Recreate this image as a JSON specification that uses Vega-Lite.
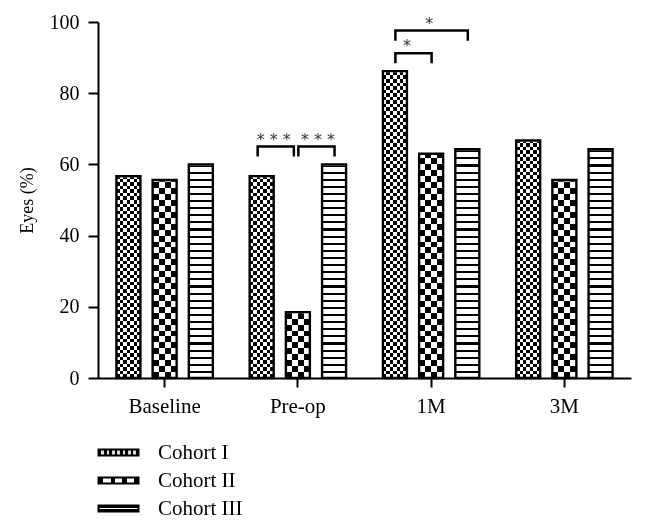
{
  "$schema": "https://vega.github.io/schema/vega-lite/v6.json",
  "width": 533,
  "height": 356,
  "autosize": {"type": "none"},
  "padding": {"left": 98, "top": 22, "right": 15, "bottom": 151},
  "background": "white",
  "config": {"view": {"stroke": null}, "font": "Liberation Serif"},
  "datasets": {
    "bars": [
      {"time": "Baseline", "cohort": "Cohort I", "value": 56.7},
      {"time": "Baseline", "cohort": "Cohort II", "value": 55.6},
      {"time": "Baseline", "cohort": "Cohort III", "value": 60.0},
      {"time": "Pre-op", "cohort": "Cohort I", "value": 56.7},
      {"time": "Pre-op", "cohort": "Cohort II", "value": 18.5},
      {"time": "Pre-op", "cohort": "Cohort III", "value": 60.0},
      {"time": "1M", "cohort": "Cohort I", "value": 86.2},
      {"time": "1M", "cohort": "Cohort II", "value": 63.0},
      {"time": "1M", "cohort": "Cohort III", "value": 64.3},
      {"time": "3M", "cohort": "Cohort I", "value": 66.7},
      {"time": "3M", "cohort": "Cohort II", "value": 55.6},
      {"time": "3M", "cohort": "Cohort III", "value": 64.3}
    ],
    "brackets": [
      {"id": "a", "time": "Pre-op", "cohort": "Cohort I", "seq": 1, "y": 62.2},
      {"id": "a", "time": "Pre-op", "cohort": "Cohort I", "seq": 2, "y": 65.0},
      {"id": "a", "time": "Pre-op", "cohort": "Cohort II", "seq": 3, "y": 65.0},
      {"id": "a", "time": "Pre-op", "cohort": "Cohort II", "seq": 4, "y": 62.2},
      {"id": "b", "time": "Pre-op", "cohort": "Cohort II", "seq": 1, "y": 62.2},
      {"id": "b", "time": "Pre-op", "cohort": "Cohort II", "seq": 2, "y": 65.0},
      {"id": "b", "time": "Pre-op", "cohort": "Cohort III", "seq": 3, "y": 65.0},
      {"id": "b", "time": "Pre-op", "cohort": "Cohort III", "seq": 4, "y": 62.2},
      {"id": "c", "time": "1M", "cohort": "Cohort I", "seq": 1, "y": 88.4},
      {"id": "c", "time": "1M", "cohort": "Cohort I", "seq": 2, "y": 91.2},
      {"id": "c", "time": "1M", "cohort": "Cohort II", "seq": 3, "y": 91.2},
      {"id": "c", "time": "1M", "cohort": "Cohort II", "seq": 4, "y": 88.4},
      {"id": "d", "time": "1M", "cohort": "Cohort I", "seq": 1, "y": 94.7},
      {"id": "d", "time": "1M", "cohort": "Cohort I", "seq": 2, "y": 97.6},
      {"id": "d", "time": "1M", "cohort": "Cohort III", "seq": 3, "y": 97.6},
      {"id": "d", "time": "1M", "cohort": "Cohort III", "seq": 4, "y": 94.7}
    ],
    "stars": [
      {"time": "Pre-op", "comparison": "I vs II", "label": "* * *", "y": 65.0},
      {"time": "Pre-op", "comparison": "II vs III", "label": "* * *", "y": 65.0},
      {"time": "1M", "comparison": "I vs II", "label": "*", "y": 91.2},
      {"time": "1M", "comparison": "I vs III", "label": "*", "y": 97.6}
    ]
  },
  "encoding": {
    "x": {
      "field": "time", "type": "nominal",
      "sort": ["Baseline", "Pre-op", "1M", "3M"],
      "scale": {"paddingInner": 0, "paddingOuter": 0},
      "title": null,
      "axis": {"labelAngle": 0, "labelFontSize": 21, "labelFont": "Liberation Serif", "labelColor": "black", "tickSize": 9, "tickWidth": 2, "tickColor": "black", "domainColor": "black", "domainWidth": 2, "labelPadding": 8, "grid": false}
    }
  },
  "layer": [
    {
      "data": {"name": "bars"},
      "encoding": {
        "xOffset": {"field": "cohort", "type": "nominal", "sort": ["Cohort I", "Cohort II", "Cohort III"], "scale": {"paddingInner": 0.337, "paddingOuter": 0.509}}
      },
      "layer": [
        {
          "mark": {"type": "bar"},
          "encoding": {
            "y": {"field": "value", "type": "quantitative", "scale": {"domain": [0, 100], "nice": false}, "title": "Eyes (%)",
              "axis": {"values": [0, 20, 40, 60, 80, 100], "grid": false, "domainColor": "black", "domainWidth": 2, "tickColor": "black", "tickWidth": 2, "tickSize": 10, "labelPadding": 9, "labelFontSize": 20, "labelColor": "black", "labelFont": "Liberation Serif", "titleFont": "Liberation Serif", "titleFontSize": 18, "titleFontWeight": "normal", "titleColor": "black", "titlePadding": 13}},
            "fill": {"field": "cohort", "type": "nominal", "sort": ["Cohort I", "Cohort II", "Cohort III"],
              "scale": {"range": [
                {"expr": "{gradient: 'linear', x1: 0, y1: 0, x2: 1, y2: 0, stops: [{offset: 0, color: '#000'}, {offset: 0.0667, color: '#000'}, {offset: 0.0667, color: '#ddd'}, {offset: 0.1333, color: '#ddd'}, {offset: 0.1333, color: '#000'}, {offset: 0.2, color: '#000'}, {offset: 0.2, color: '#ddd'}, {offset: 0.2667, color: '#ddd'}, {offset: 0.2667, color: '#000'}, {offset: 0.3333, color: '#000'}, {offset: 0.3333, color: '#ddd'}, {offset: 0.4, color: '#ddd'}, {offset: 0.4, color: '#000'}, {offset: 0.4667, color: '#000'}, {offset: 0.4667, color: '#ddd'}, {offset: 0.5333, color: '#ddd'}, {offset: 0.5333, color: '#000'}, {offset: 0.6, color: '#000'}, {offset: 0.6, color: '#ddd'}, {offset: 0.6667, color: '#ddd'}, {offset: 0.6667, color: '#000'}, {offset: 0.7333, color: '#000'}, {offset: 0.7333, color: '#ddd'}, {offset: 0.8, color: '#ddd'}, {offset: 0.8, color: '#000'}, {offset: 0.8667, color: '#000'}, {offset: 0.8667, color: '#ddd'}, {offset: 0.9333, color: '#ddd'}, {offset: 0.9333, color: '#000'}, {offset: 1, color: '#000'}]}"},
                {"expr": "{gradient: 'linear', x1: 0, y1: 0, x2: 1, y2: 0, stops: [{offset: 0, color: '#000'}, {offset: 0.12, color: '#000'}, {offset: 0.12, color: '#fff'}, {offset: 0.3, color: '#fff'}, {offset: 0.3, color: '#000'}, {offset: 0.41, color: '#000'}, {offset: 0.41, color: '#fff'}, {offset: 0.59, color: '#fff'}, {offset: 0.59, color: '#000'}, {offset: 0.7, color: '#000'}, {offset: 0.7, color: '#fff'}, {offset: 0.88, color: '#fff'}, {offset: 0.88, color: '#000'}, {offset: 1, color: '#000'}]}"},
                {"expr": "{gradient: 'linear', x1: 0, y1: 0, x2: 0, y2: 1, stops: [{offset: 0, color: '#000'}, {offset: 0.36, color: '#000'}, {offset: 0.36, color: '#fff'}, {offset: 0.64, color: '#fff'}, {offset: 0.64, color: '#000'}, {offset: 1, color: '#000'}]}"}
              ]},
              "legend": {"title": null, "orient": "bottom", "direction": "vertical", "symbolType": "M-2.5,-0.38H2.5V0.38H-2.5Z", "symbolSize": 256, "labelFont": "Liberation Serif", "labelFontSize": 21, "labelColor": "black", "labelOffset": 29, "rowPadding": 6, "padding": 10, "offset": 16,
                "encode": {"symbols": {"update": {"stroke": {"value": "black"}, "strokeWidth": {"value": 2}, "opacity": {"value": 1}, "fillOpacity": {"value": 1}}}}}}
          }
        },
        {
          "transform": [{"filter": "datum.cohort === 'Cohort I'"}],
          "mark": {"type": "bar", "fill": {"gradient": "linear", "x1": 0, "y1": 0, "x2": 0, "y2": 1, "stops": [
            {"offset":0,"color":"#000"},{"offset":0.01,"color":"#000"},{"offset":0.01,"color":"#fff"},{"offset":0.02,"color":"#fff"},{"offset":0.02,"color":"#000"},{"offset":0.03,"color":"#000"},{"offset":0.03,"color":"#fff"},{"offset":0.04,"color":"#fff"},{"offset":0.04,"color":"#000"},{"offset":0.05,"color":"#000"},{"offset":0.05,"color":"#fff"},{"offset":0.06,"color":"#fff"},{"offset":0.06,"color":"#000"},{"offset":0.07,"color":"#000"},{"offset":0.07,"color":"#fff"},{"offset":0.08,"color":"#fff"},{"offset":0.08,"color":"#000"},{"offset":0.09,"color":"#000"},{"offset":0.09,"color":"#fff"},{"offset":0.1,"color":"#fff"},
            {"offset":0.1,"color":"#000"},{"offset":0.11,"color":"#000"},{"offset":0.11,"color":"#fff"},{"offset":0.12,"color":"#fff"},{"offset":0.12,"color":"#000"},{"offset":0.13,"color":"#000"},{"offset":0.13,"color":"#fff"},{"offset":0.14,"color":"#fff"},{"offset":0.14,"color":"#000"},{"offset":0.15,"color":"#000"},{"offset":0.15,"color":"#fff"},{"offset":0.16,"color":"#fff"},{"offset":0.16,"color":"#000"},{"offset":0.17,"color":"#000"},{"offset":0.17,"color":"#fff"},{"offset":0.18,"color":"#fff"},{"offset":0.18,"color":"#000"},{"offset":0.19,"color":"#000"},{"offset":0.19,"color":"#fff"},{"offset":0.2,"color":"#fff"},
            {"offset":0.2,"color":"#000"},{"offset":0.21,"color":"#000"},{"offset":0.21,"color":"#fff"},{"offset":0.22,"color":"#fff"},{"offset":0.22,"color":"#000"},{"offset":0.23,"color":"#000"},{"offset":0.23,"color":"#fff"},{"offset":0.24,"color":"#fff"},{"offset":0.24,"color":"#000"},{"offset":0.25,"color":"#000"},{"offset":0.25,"color":"#fff"},{"offset":0.26,"color":"#fff"},{"offset":0.26,"color":"#000"},{"offset":0.27,"color":"#000"},{"offset":0.27,"color":"#fff"},{"offset":0.28,"color":"#fff"},{"offset":0.28,"color":"#000"},{"offset":0.29,"color":"#000"},{"offset":0.29,"color":"#fff"},{"offset":0.3,"color":"#fff"},
            {"offset":0.3,"color":"#000"},{"offset":0.31,"color":"#000"},{"offset":0.31,"color":"#fff"},{"offset":0.32,"color":"#fff"},{"offset":0.32,"color":"#000"},{"offset":0.33,"color":"#000"},{"offset":0.33,"color":"#fff"},{"offset":0.34,"color":"#fff"},{"offset":0.34,"color":"#000"},{"offset":0.35,"color":"#000"},{"offset":0.35,"color":"#fff"},{"offset":0.36,"color":"#fff"},{"offset":0.36,"color":"#000"},{"offset":0.37,"color":"#000"},{"offset":0.37,"color":"#fff"},{"offset":0.38,"color":"#fff"},{"offset":0.38,"color":"#000"},{"offset":0.39,"color":"#000"},{"offset":0.39,"color":"#fff"},{"offset":0.4,"color":"#fff"},
            {"offset":0.4,"color":"#000"},{"offset":0.41,"color":"#000"},{"offset":0.41,"color":"#fff"},{"offset":0.42,"color":"#fff"},{"offset":0.42,"color":"#000"},{"offset":0.43,"color":"#000"},{"offset":0.43,"color":"#fff"},{"offset":0.44,"color":"#fff"},{"offset":0.44,"color":"#000"},{"offset":0.45,"color":"#000"},{"offset":0.45,"color":"#fff"},{"offset":0.46,"color":"#fff"},{"offset":0.46,"color":"#000"},{"offset":0.47,"color":"#000"},{"offset":0.47,"color":"#fff"},{"offset":0.48,"color":"#fff"},{"offset":0.48,"color":"#000"},{"offset":0.49,"color":"#000"},{"offset":0.49,"color":"#fff"},{"offset":0.5,"color":"#fff"},
            {"offset":0.5,"color":"#000"},{"offset":0.51,"color":"#000"},{"offset":0.51,"color":"#fff"},{"offset":0.52,"color":"#fff"},{"offset":0.52,"color":"#000"},{"offset":0.53,"color":"#000"},{"offset":0.53,"color":"#fff"},{"offset":0.54,"color":"#fff"},{"offset":0.54,"color":"#000"},{"offset":0.55,"color":"#000"},{"offset":0.55,"color":"#fff"},{"offset":0.56,"color":"#fff"},{"offset":0.56,"color":"#000"},{"offset":0.57,"color":"#000"},{"offset":0.57,"color":"#fff"},{"offset":0.58,"color":"#fff"},{"offset":0.58,"color":"#000"},{"offset":0.59,"color":"#000"},{"offset":0.59,"color":"#fff"},{"offset":0.6,"color":"#fff"},
            {"offset":0.6,"color":"#000"},{"offset":0.61,"color":"#000"},{"offset":0.61,"color":"#fff"},{"offset":0.62,"color":"#fff"},{"offset":0.62,"color":"#000"},{"offset":0.63,"color":"#000"},{"offset":0.63,"color":"#fff"},{"offset":0.64,"color":"#fff"},{"offset":0.64,"color":"#000"},{"offset":0.65,"color":"#000"},{"offset":0.65,"color":"#fff"},{"offset":0.66,"color":"#fff"},{"offset":0.66,"color":"#000"},{"offset":0.67,"color":"#000"},{"offset":0.67,"color":"#fff"},{"offset":0.68,"color":"#fff"},{"offset":0.68,"color":"#000"},{"offset":0.69,"color":"#000"},{"offset":0.69,"color":"#fff"},{"offset":0.7,"color":"#fff"},
            {"offset":0.7,"color":"#000"},{"offset":0.71,"color":"#000"},{"offset":0.71,"color":"#fff"},{"offset":0.72,"color":"#fff"},{"offset":0.72,"color":"#000"},{"offset":0.73,"color":"#000"},{"offset":0.73,"color":"#fff"},{"offset":0.74,"color":"#fff"},{"offset":0.74,"color":"#000"},{"offset":0.75,"color":"#000"},{"offset":0.75,"color":"#fff"},{"offset":0.76,"color":"#fff"},{"offset":0.76,"color":"#000"},{"offset":0.77,"color":"#000"},{"offset":0.77,"color":"#fff"},{"offset":0.78,"color":"#fff"},{"offset":0.78,"color":"#000"},{"offset":0.79,"color":"#000"},{"offset":0.79,"color":"#fff"},{"offset":0.8,"color":"#fff"},
            {"offset":0.8,"color":"#000"},{"offset":0.81,"color":"#000"},{"offset":0.81,"color":"#fff"},{"offset":0.82,"color":"#fff"},{"offset":0.82,"color":"#000"},{"offset":0.83,"color":"#000"},{"offset":0.83,"color":"#fff"},{"offset":0.84,"color":"#fff"},{"offset":0.84,"color":"#000"},{"offset":0.85,"color":"#000"},{"offset":0.85,"color":"#fff"},{"offset":0.86,"color":"#fff"},{"offset":0.86,"color":"#000"},{"offset":0.87,"color":"#000"},{"offset":0.87,"color":"#fff"},{"offset":0.88,"color":"#fff"},{"offset":0.88,"color":"#000"},{"offset":0.89,"color":"#000"},{"offset":0.89,"color":"#fff"},{"offset":0.9,"color":"#fff"},
            {"offset":0.9,"color":"#000"},{"offset":0.91,"color":"#000"},{"offset":0.91,"color":"#fff"},{"offset":0.92,"color":"#fff"},{"offset":0.92,"color":"#000"},{"offset":0.93,"color":"#000"},{"offset":0.93,"color":"#fff"},{"offset":0.94,"color":"#fff"},{"offset":0.94,"color":"#000"},{"offset":0.95,"color":"#000"},{"offset":0.95,"color":"#fff"},{"offset":0.96,"color":"#fff"},{"offset":0.96,"color":"#000"},{"offset":0.97,"color":"#000"},{"offset":0.97,"color":"#fff"},{"offset":0.98,"color":"#fff"},{"offset":0.98,"color":"#000"},{"offset":0.99,"color":"#000"},{"offset":0.99,"color":"#fff"},{"offset":1,"color":"#fff"}
          ]}},
          "encoding": {"y": {"datum": 100, "type": "quantitative", "title": "Eyes (%)"}, "y2": {"datum": 0}}
        },
        {
          "transform": [{"filter": "datum.cohort === 'Cohort II'"}],
          "mark": {"type": "bar", "fill": {"gradient": "linear", "x1": 0, "y1": 0, "x2": 0, "y2": 1, "stops": [
            {"offset":0,"color":"#000"},{"offset":0.0167,"color":"#000"},{"offset":0.0167,"color":"#fff"},{"offset":0.0333,"color":"#fff"},{"offset":0.0333,"color":"#000"},{"offset":0.05,"color":"#000"},{"offset":0.05,"color":"#fff"},{"offset":0.0667,"color":"#fff"},{"offset":0.0667,"color":"#000"},{"offset":0.0833,"color":"#000"},{"offset":0.0833,"color":"#fff"},{"offset":0.1,"color":"#fff"},
            {"offset":0.1,"color":"#000"},{"offset":0.1167,"color":"#000"},{"offset":0.1167,"color":"#fff"},{"offset":0.1333,"color":"#fff"},{"offset":0.1333,"color":"#000"},{"offset":0.15,"color":"#000"},{"offset":0.15,"color":"#fff"},{"offset":0.1667,"color":"#fff"},{"offset":0.1667,"color":"#000"},{"offset":0.1833,"color":"#000"},{"offset":0.1833,"color":"#fff"},{"offset":0.2,"color":"#fff"},
            {"offset":0.2,"color":"#000"},{"offset":0.2167,"color":"#000"},{"offset":0.2167,"color":"#fff"},{"offset":0.2333,"color":"#fff"},{"offset":0.2333,"color":"#000"},{"offset":0.25,"color":"#000"},{"offset":0.25,"color":"#fff"},{"offset":0.2667,"color":"#fff"},{"offset":0.2667,"color":"#000"},{"offset":0.2833,"color":"#000"},{"offset":0.2833,"color":"#fff"},{"offset":0.3,"color":"#fff"},
            {"offset":0.3,"color":"#000"},{"offset":0.3167,"color":"#000"},{"offset":0.3167,"color":"#fff"},{"offset":0.3333,"color":"#fff"},{"offset":0.3333,"color":"#000"},{"offset":0.35,"color":"#000"},{"offset":0.35,"color":"#fff"},{"offset":0.3667,"color":"#fff"},{"offset":0.3667,"color":"#000"},{"offset":0.3833,"color":"#000"},{"offset":0.3833,"color":"#fff"},{"offset":0.4,"color":"#fff"},
            {"offset":0.4,"color":"#000"},{"offset":0.4167,"color":"#000"},{"offset":0.4167,"color":"#fff"},{"offset":0.4333,"color":"#fff"},{"offset":0.4333,"color":"#000"},{"offset":0.45,"color":"#000"},{"offset":0.45,"color":"#fff"},{"offset":0.4667,"color":"#fff"},{"offset":0.4667,"color":"#000"},{"offset":0.4833,"color":"#000"},{"offset":0.4833,"color":"#fff"},{"offset":0.5,"color":"#fff"},
            {"offset":0.5,"color":"#000"},{"offset":0.5167,"color":"#000"},{"offset":0.5167,"color":"#fff"},{"offset":0.5333,"color":"#fff"},{"offset":0.5333,"color":"#000"},{"offset":0.55,"color":"#000"},{"offset":0.55,"color":"#fff"},{"offset":0.5667,"color":"#fff"},{"offset":0.5667,"color":"#000"},{"offset":0.5833,"color":"#000"},{"offset":0.5833,"color":"#fff"},{"offset":0.6,"color":"#fff"},
            {"offset":0.6,"color":"#000"},{"offset":0.6167,"color":"#000"},{"offset":0.6167,"color":"#fff"},{"offset":0.6333,"color":"#fff"},{"offset":0.6333,"color":"#000"},{"offset":0.65,"color":"#000"},{"offset":0.65,"color":"#fff"},{"offset":0.6667,"color":"#fff"},{"offset":0.6667,"color":"#000"},{"offset":0.6833,"color":"#000"},{"offset":0.6833,"color":"#fff"},{"offset":0.7,"color":"#fff"},
            {"offset":0.7,"color":"#000"},{"offset":0.7167,"color":"#000"},{"offset":0.7167,"color":"#fff"},{"offset":0.7333,"color":"#fff"},{"offset":0.7333,"color":"#000"},{"offset":0.75,"color":"#000"},{"offset":0.75,"color":"#fff"},{"offset":0.7667,"color":"#fff"},{"offset":0.7667,"color":"#000"},{"offset":0.7833,"color":"#000"},{"offset":0.7833,"color":"#fff"},{"offset":0.8,"color":"#fff"},
            {"offset":0.8,"color":"#000"},{"offset":0.8167,"color":"#000"},{"offset":0.8167,"color":"#fff"},{"offset":0.8333,"color":"#fff"},{"offset":0.8333,"color":"#000"},{"offset":0.85,"color":"#000"},{"offset":0.85,"color":"#fff"},{"offset":0.8667,"color":"#fff"},{"offset":0.8667,"color":"#000"},{"offset":0.8833,"color":"#000"},{"offset":0.8833,"color":"#fff"},{"offset":0.9,"color":"#fff"},
            {"offset":0.9,"color":"#000"},{"offset":0.9167,"color":"#000"},{"offset":0.9167,"color":"#fff"},{"offset":0.9333,"color":"#fff"},{"offset":0.9333,"color":"#000"},{"offset":0.95,"color":"#000"},{"offset":0.95,"color":"#fff"},{"offset":0.9667,"color":"#fff"},{"offset":0.9667,"color":"#000"},{"offset":0.9833,"color":"#000"},{"offset":0.9833,"color":"#fff"},{"offset":1,"color":"#fff"}
          ]}},
          "encoding": {"y": {"datum": 100, "type": "quantitative", "title": "Eyes (%)"}, "y2": {"datum": 0}}
        },
        {
          "transform": [{"filter": "datum.cohort === 'Cohort III'"}],
          "mark": {"type": "bar", "fill": {"gradient": "linear", "x1": 0, "y1": 0, "x2": 0, "y2": 1, "stops": [
            {"offset":0,"color":"#000"},{"offset":0.006,"color":"#000"},{"offset":0.006,"color":"#fff"},{"offset":0.02,"color":"#fff"},
            {"offset":0.02,"color":"#000"},{"offset":0.026,"color":"#000"},{"offset":0.026,"color":"#fff"},{"offset":0.04,"color":"#fff"},
            {"offset":0.04,"color":"#000"},{"offset":0.046,"color":"#000"},{"offset":0.046,"color":"#fff"},{"offset":0.06,"color":"#fff"},
            {"offset":0.06,"color":"#000"},{"offset":0.066,"color":"#000"},{"offset":0.066,"color":"#fff"},{"offset":0.08,"color":"#fff"},
            {"offset":0.08,"color":"#000"},{"offset":0.086,"color":"#000"},{"offset":0.086,"color":"#fff"},{"offset":0.1,"color":"#fff"},
            {"offset":0.1,"color":"#000"},{"offset":0.106,"color":"#000"},{"offset":0.106,"color":"#fff"},{"offset":0.12,"color":"#fff"},
            {"offset":0.12,"color":"#000"},{"offset":0.126,"color":"#000"},{"offset":0.126,"color":"#fff"},{"offset":0.14,"color":"#fff"},
            {"offset":0.14,"color":"#000"},{"offset":0.146,"color":"#000"},{"offset":0.146,"color":"#fff"},{"offset":0.16,"color":"#fff"},
            {"offset":0.16,"color":"#000"},{"offset":0.166,"color":"#000"},{"offset":0.166,"color":"#fff"},{"offset":0.18,"color":"#fff"},
            {"offset":0.18,"color":"#000"},{"offset":0.186,"color":"#000"},{"offset":0.186,"color":"#fff"},{"offset":0.2,"color":"#fff"},
            {"offset":0.2,"color":"#000"},{"offset":0.206,"color":"#000"},{"offset":0.206,"color":"#fff"},{"offset":0.22,"color":"#fff"},
            {"offset":0.22,"color":"#000"},{"offset":0.226,"color":"#000"},{"offset":0.226,"color":"#fff"},{"offset":0.24,"color":"#fff"},
            {"offset":0.24,"color":"#000"},{"offset":0.246,"color":"#000"},{"offset":0.246,"color":"#fff"},{"offset":0.26,"color":"#fff"},
            {"offset":0.26,"color":"#000"},{"offset":0.266,"color":"#000"},{"offset":0.266,"color":"#fff"},{"offset":0.28,"color":"#fff"},
            {"offset":0.28,"color":"#000"},{"offset":0.286,"color":"#000"},{"offset":0.286,"color":"#fff"},{"offset":0.3,"color":"#fff"},
            {"offset":0.3,"color":"#000"},{"offset":0.306,"color":"#000"},{"offset":0.306,"color":"#fff"},{"offset":0.32,"color":"#fff"},
            {"offset":0.32,"color":"#000"},{"offset":0.326,"color":"#000"},{"offset":0.326,"color":"#fff"},{"offset":0.34,"color":"#fff"},
            {"offset":0.34,"color":"#000"},{"offset":0.346,"color":"#000"},{"offset":0.346,"color":"#fff"},{"offset":0.36,"color":"#fff"},
            {"offset":0.36,"color":"#000"},{"offset":0.366,"color":"#000"},{"offset":0.366,"color":"#fff"},{"offset":0.38,"color":"#fff"},
            {"offset":0.38,"color":"#000"},{"offset":0.386,"color":"#000"},{"offset":0.386,"color":"#fff"},{"offset":0.4,"color":"#fff"},
            {"offset":0.4,"color":"#000"},{"offset":0.406,"color":"#000"},{"offset":0.406,"color":"#fff"},{"offset":0.42,"color":"#fff"},
            {"offset":0.42,"color":"#000"},{"offset":0.426,"color":"#000"},{"offset":0.426,"color":"#fff"},{"offset":0.44,"color":"#fff"},
            {"offset":0.44,"color":"#000"},{"offset":0.446,"color":"#000"},{"offset":0.446,"color":"#fff"},{"offset":0.46,"color":"#fff"},
            {"offset":0.46,"color":"#000"},{"offset":0.466,"color":"#000"},{"offset":0.466,"color":"#fff"},{"offset":0.48,"color":"#fff"},
            {"offset":0.48,"color":"#000"},{"offset":0.486,"color":"#000"},{"offset":0.486,"color":"#fff"},{"offset":0.5,"color":"#fff"},
            {"offset":0.5,"color":"#000"},{"offset":0.506,"color":"#000"},{"offset":0.506,"color":"#fff"},{"offset":0.52,"color":"#fff"},
            {"offset":0.52,"color":"#000"},{"offset":0.526,"color":"#000"},{"offset":0.526,"color":"#fff"},{"offset":0.54,"color":"#fff"},
            {"offset":0.54,"color":"#000"},{"offset":0.546,"color":"#000"},{"offset":0.546,"color":"#fff"},{"offset":0.56,"color":"#fff"},
            {"offset":0.56,"color":"#000"},{"offset":0.566,"color":"#000"},{"offset":0.566,"color":"#fff"},{"offset":0.58,"color":"#fff"},
            {"offset":0.58,"color":"#000"},{"offset":0.586,"color":"#000"},{"offset":0.586,"color":"#fff"},{"offset":0.6,"color":"#fff"},
            {"offset":0.6,"color":"#000"},{"offset":0.606,"color":"#000"},{"offset":0.606,"color":"#fff"},{"offset":0.62,"color":"#fff"},
            {"offset":0.62,"color":"#000"},{"offset":0.626,"color":"#000"},{"offset":0.626,"color":"#fff"},{"offset":0.64,"color":"#fff"},
            {"offset":0.64,"color":"#000"},{"offset":0.646,"color":"#000"},{"offset":0.646,"color":"#fff"},{"offset":0.66,"color":"#fff"},
            {"offset":0.66,"color":"#000"},{"offset":0.666,"color":"#000"},{"offset":0.666,"color":"#fff"},{"offset":0.68,"color":"#fff"},
            {"offset":0.68,"color":"#000"},{"offset":0.686,"color":"#000"},{"offset":0.686,"color":"#fff"},{"offset":0.7,"color":"#fff"},
            {"offset":0.7,"color":"#000"},{"offset":0.706,"color":"#000"},{"offset":0.706,"color":"#fff"},{"offset":0.72,"color":"#fff"},
            {"offset":0.72,"color":"#000"},{"offset":0.726,"color":"#000"},{"offset":0.726,"color":"#fff"},{"offset":0.74,"color":"#fff"},
            {"offset":0.74,"color":"#000"},{"offset":0.746,"color":"#000"},{"offset":0.746,"color":"#fff"},{"offset":0.76,"color":"#fff"},
            {"offset":0.76,"color":"#000"},{"offset":0.766,"color":"#000"},{"offset":0.766,"color":"#fff"},{"offset":0.78,"color":"#fff"},
            {"offset":0.78,"color":"#000"},{"offset":0.786,"color":"#000"},{"offset":0.786,"color":"#fff"},{"offset":0.8,"color":"#fff"},
            {"offset":0.8,"color":"#000"},{"offset":0.806,"color":"#000"},{"offset":0.806,"color":"#fff"},{"offset":0.82,"color":"#fff"},
            {"offset":0.82,"color":"#000"},{"offset":0.826,"color":"#000"},{"offset":0.826,"color":"#fff"},{"offset":0.84,"color":"#fff"},
            {"offset":0.84,"color":"#000"},{"offset":0.846,"color":"#000"},{"offset":0.846,"color":"#fff"},{"offset":0.86,"color":"#fff"},
            {"offset":0.86,"color":"#000"},{"offset":0.866,"color":"#000"},{"offset":0.866,"color":"#fff"},{"offset":0.88,"color":"#fff"},
            {"offset":0.88,"color":"#000"},{"offset":0.886,"color":"#000"},{"offset":0.886,"color":"#fff"},{"offset":0.9,"color":"#fff"},
            {"offset":0.9,"color":"#000"},{"offset":0.906,"color":"#000"},{"offset":0.906,"color":"#fff"},{"offset":0.92,"color":"#fff"},
            {"offset":0.92,"color":"#000"},{"offset":0.926,"color":"#000"},{"offset":0.926,"color":"#fff"},{"offset":0.94,"color":"#fff"},
            {"offset":0.94,"color":"#000"},{"offset":0.946,"color":"#000"},{"offset":0.946,"color":"#fff"},{"offset":0.96,"color":"#fff"},
            {"offset":0.96,"color":"#000"},{"offset":0.966,"color":"#000"},{"offset":0.966,"color":"#fff"},{"offset":0.98,"color":"#fff"},
            {"offset":0.98,"color":"#000"},{"offset":0.986,"color":"#000"},{"offset":0.986,"color":"#fff"},{"offset":1,"color":"#fff"}
          ]}},
          "encoding": {"y": {"datum": 100, "type": "quantitative", "title": "Eyes (%)"}, "y2": {"datum": 0}}
        },
        {
          "transform": [{"filter": "datum.cohort === 'Cohort I'"}],
          "mark": {"type": "bar", "blend": "difference", "fill": {"gradient": "linear", "x1": 0, "y1": 0, "x2": 1, "y2": 0, "stops": [
            {"offset":0,"color":"#fff"},{"offset":0.1429,"color":"#fff"},{"offset":0.1429,"color":"#000"},{"offset":0.2857,"color":"#000"},{"offset":0.2857,"color":"#fff"},{"offset":0.4286,"color":"#fff"},{"offset":0.4286,"color":"#000"},{"offset":0.5714,"color":"#000"},{"offset":0.5714,"color":"#fff"},{"offset":0.7143,"color":"#fff"},{"offset":0.7143,"color":"#000"},{"offset":0.8571,"color":"#000"},{"offset":0.8571,"color":"#fff"},{"offset":1,"color":"#fff"}
          ]}},
          "encoding": {"y": {"datum": 100, "type": "quantitative", "title": "Eyes (%)"}, "y2": {"datum": 0}}
        },
        {
          "transform": [{"filter": "datum.cohort === 'Cohort II'"}],
          "mark": {"type": "bar", "blend": "difference", "fill": {"gradient": "linear", "x1": 0, "y1": 0, "x2": 1, "y2": 0, "stops": [
            {"offset":0,"color":"#fff"},{"offset":0.25,"color":"#fff"},{"offset":0.25,"color":"#000"},{"offset":0.5,"color":"#000"},{"offset":0.5,"color":"#fff"},{"offset":0.75,"color":"#fff"},{"offset":0.75,"color":"#000"},{"offset":1,"color":"#000"}
          ]}},
          "encoding": {"y": {"datum": 100, "type": "quantitative", "title": "Eyes (%)"}, "y2": {"datum": 0}}
        },
        {
          "mark": {"type": "bar", "fill": "white", "stroke": "white", "strokeWidth": 2.4},
          "encoding": {"y": {"field": "value", "type": "quantitative", "title": "Eyes (%)"}, "y2": {"datum": 100}}
        },
        {
          "mark": {"type": "bar", "fill": "white", "fillOpacity": 0, "stroke": "black", "strokeWidth": 2.4},
          "encoding": {"y": {"field": "value", "type": "quantitative", "title": "Eyes (%)"}}
        }
      ]
    },
    {
      "data": {"name": "brackets"},
      "transform": [{"filter": "datum.id === 'a'"}],
      "mark": {"type": "line", "stroke": "black", "strokeWidth": 2.5, "strokeJoin": "miter", "strokeCap": "butt"},
      "encoding": {
        "xOffset": {"field": "cohort", "type": "nominal", "scale": {"type": "point", "domain": ["Cohort I", "Cohort II", "Cohort III"], "padding": 0, "range": [26.4, 98.8]}},
        "y": {"field": "y", "type": "quantitative", "title": "Eyes (%)"},
        "detail": {"field": "id"},
        "order": {"field": "seq", "type": "quantitative"}
      }
    },
    {
      "data": {"name": "brackets"},
      "transform": [{"filter": "datum.id !== 'a'"}],
      "mark": {"type": "line", "stroke": "black", "strokeWidth": 2.5, "strokeJoin": "miter", "strokeCap": "butt"},
      "encoding": {
        "xOffset": {"field": "cohort", "type": "nominal", "scale": {"type": "point", "domain": ["Cohort I", "Cohort II", "Cohort III"], "padding": 0, "range": [30.9, 103.3]}},
        "y": {"field": "y", "type": "quantitative", "title": "Eyes (%)"},
        "detail": {"field": "id"},
        "order": {"field": "seq", "type": "quantitative"}
      }
    },
    {
      "data": {"name": "stars"},
      "mark": {"type": "text", "font": "DejaVu Sans", "fontSize": 16, "color": "#333333", "baseline": "alphabetic", "dy": -2},
      "encoding": {
        "xOffset": {"field": "comparison", "type": "nominal", "scale": {"type": "point", "domain": ["I vs II", "I vs III", "II vs III"], "padding": 0, "range": [42.5, 86.75]}},
        "y": {"field": "y", "type": "quantitative", "title": "Eyes (%)"},
        "text": {"field": "label"}
      }
    }
  ],
  "resolve": {"scale": {"xOffset": "independent"}}
}
